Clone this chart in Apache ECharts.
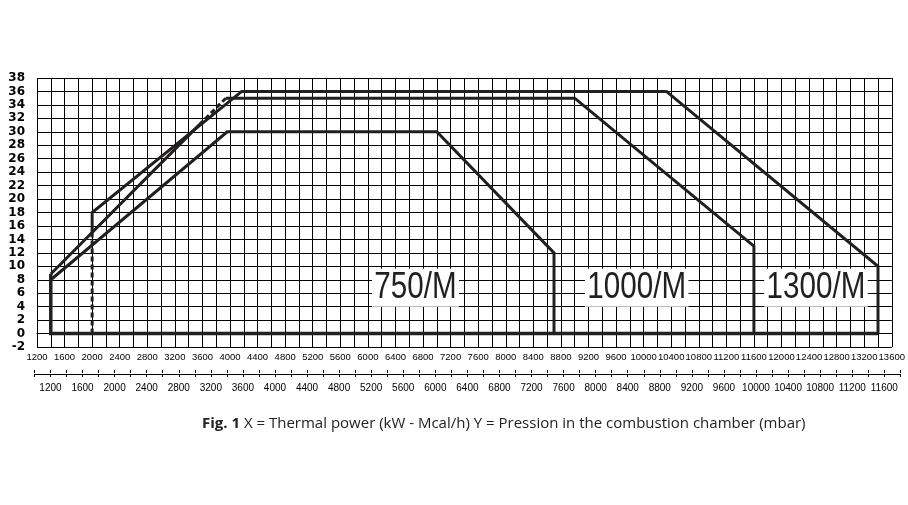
<!DOCTYPE html>
<html>
<head>
<meta charset="utf-8">
<script src="https://cdn.jsdelivr.net/npm/echarts@6/dist/echarts.min.js"></script>
<style>
html,body{margin:0;padding:0;background:#fff;}
#c{width:908px;height:505px;}
</style>
</head>
<body>
<div id="c"></div>
<script>
// ---- data (kW, mbar) ----
const curve750 = [[1400, 8], [3960, 30], [7000, 30], [8700, 12], [8700, 0]];
const curve1000Solid = [[1400, 8.85], [3560, 31.1]];
const curve1000Dashed = [[3560, 31.1], [3940, 35]];
const curve1000Top = [[3940, 35], [9000, 35], [11600, 13], [11600, 0]];
const curve1300 = [[2000, 14.6], [2000, 18], [4170, 36], [10330, 36], [13400, 10], [13400, 0]];
const dashed2000 = [[2000, 0], [2000, 14.6]];
const envelope = [[1400, 8.85], [1400, 0], [13400, 0]];
const modelLabels = [[6690, 6.8, '750/M'], [9900, 6.8, '1000/M'], [12500, 6.8, '1300/M']];

const kwMin = 1200, kwMax = 13600, kwStep = 200;
const yMin = -2, yMax = 38, yStep = 2;
const mcalFactor = 0.86;
const mcalMin = 1000, mcalMax = 11800, mcalStep = 200;
const captionBold = 'Fig. 1';
const captionText = ' X = Thermal power (kW - Mcal/h) Y = Pression in the combustion chamber (mbar)';

// ---- layout ----
const W = 908;
const gLeft = 37, gRight = 16, gTop = 78, gBottom = 158;
const gWidth = W - gLeft - gRight;
const pxPerMcal = gWidth / ((kwMax - kwMin) * mcalFactor);
const g2Left = gLeft + (mcalMin - kwMin * mcalFactor) * pxPerMcal;
const g2Right = W - (gLeft + (mcalMax - kwMin * mcalFactor) * pxPerMcal);

const sans = '"Liberation Sans", Arial, sans-serif';
const lineColor = '#231f20';

function lineSeries(data, width, type) {
  return {
    type: 'line', xAxisIndex: 0, yAxisIndex: 0, data: data,
    symbol: 'none', animation: false, silent: true,
    lineStyle: { color: lineColor, width: width, type: type || 'solid', cap: 'butt', join: 'miter' },
    z: 5
  };
}

const chart = echarts.init(document.getElementById('c'), null, { renderer: 'canvas' });
chart.setOption({
  animation: false,
  backgroundColor: '#fff',
  title: {
    text: '{b|' + captionBold + '}{r|' + captionText + '}',
    left: 197, top: 411,
    textStyle: {
      rich: {
        b: { fontFamily: '"Open Sans", sans-serif', fontWeight: 'bold', fontSize: 15, color: '#222' },
        r: { fontFamily: '"Open Sans", sans-serif', fontWeight: 'normal', fontSize: 15, color: '#222' }
      }
    }
  },
  grid: [
    { left: gLeft, right: gRight, top: gTop, bottom: gBottom, containLabel: false },
    { left: g2Left, right: g2Right, top: 373, height: 1, containLabel: false }
  ],
  xAxis: [
    {
      type: 'value', gridIndex: 0, min: kwMin, max: kwMax, interval: kwStep,
      axisLine: { show: true, lineStyle: { color: '#000', width: 1 } },
      axisTick: { show: true, length: 3, lineStyle: { color: '#000', width: 1 } },
      axisLabel: {
        interval: 1, margin: 5, fontSize: 9.5, fontFamily: sans, color: '#000',
        formatter: v => ((v - kwMin) % (2 * kwStep) === 0 ? String(v) : '')
      },
      splitLine: { show: true, lineStyle: { color: '#000', width: 1 } }
    },
    {
      type: 'value', gridIndex: 1, position: 'bottom', min: mcalMin, max: mcalMax, interval: mcalStep,
      axisLine: { show: true, lineStyle: { color: '#000', width: 1 } },
      axisTick: { show: true, length: 3, lineStyle: { color: '#000', width: 1 } },
      axisLabel: {
        margin: 9, fontSize: 10, fontFamily: sans, color: '#000',
        formatter: v => ((v - 1200) % 400 === 0 && v >= 1200 && v <= 11600 ? String(v) : '')
      },
      splitLine: { show: false }
    },
    {
      type: 'value', gridIndex: 1, position: 'top', min: mcalMin, max: mcalMax, interval: mcalStep,
      axisLine: { show: false },
      axisTick: { show: true, length: 3, lineStyle: { color: '#000', width: 1 } },
      axisLabel: { show: false },
      splitLine: { show: false }
    }
  ],
  yAxis: [
    {
      type: 'value', gridIndex: 0, min: yMin, max: yMax, interval: yStep,
      axisLine: { show: false },
      axisTick: { show: false },
      axisLabel: { margin: 12, fontSize: 12, fontWeight: 'bold', fontFamily: '"DejaVu Sans", sans-serif', color: '#000' },
      splitLine: { show: true, lineStyle: { color: '#000', width: 1 } }
    },
    {
      type: 'value', gridIndex: 1, min: 0, max: 1, show: false
    }
  ],
  series: [
    lineSeries(envelope, 3.5),
    lineSeries(curve750, 3),
    lineSeries(curve1000Solid, 3),
    lineSeries(curve1000Dashed, 3, [5, 3]),
    lineSeries(curve1000Top, 3),
    lineSeries(curve1300, 3),
    lineSeries(dashed2000, 3, [5, 3])
  ]
});

// model labels placed through the chart's own coordinate conversion
const labelEls = modelLabels.map(function (d) {
  const p = chart.convertToPixel({ gridIndex: 0 }, [d[0], d[1]]);
  return {
    type: 'text', x: p[0], y: p[1], scaleX: 0.8, z: 100, silent: true,
    style: {
      text: d[2], fill: lineColor,
      font: 'normal 37px "Liberation Sans", Arial, sans-serif',
      textAlign: 'center', textVerticalAlign: 'middle',
      backgroundColor: '#fff', padding: [1, 3, 0, 3]
    }
  };
});
chart.setOption({ graphic: labelEls });
</script>
</body>
</html>
